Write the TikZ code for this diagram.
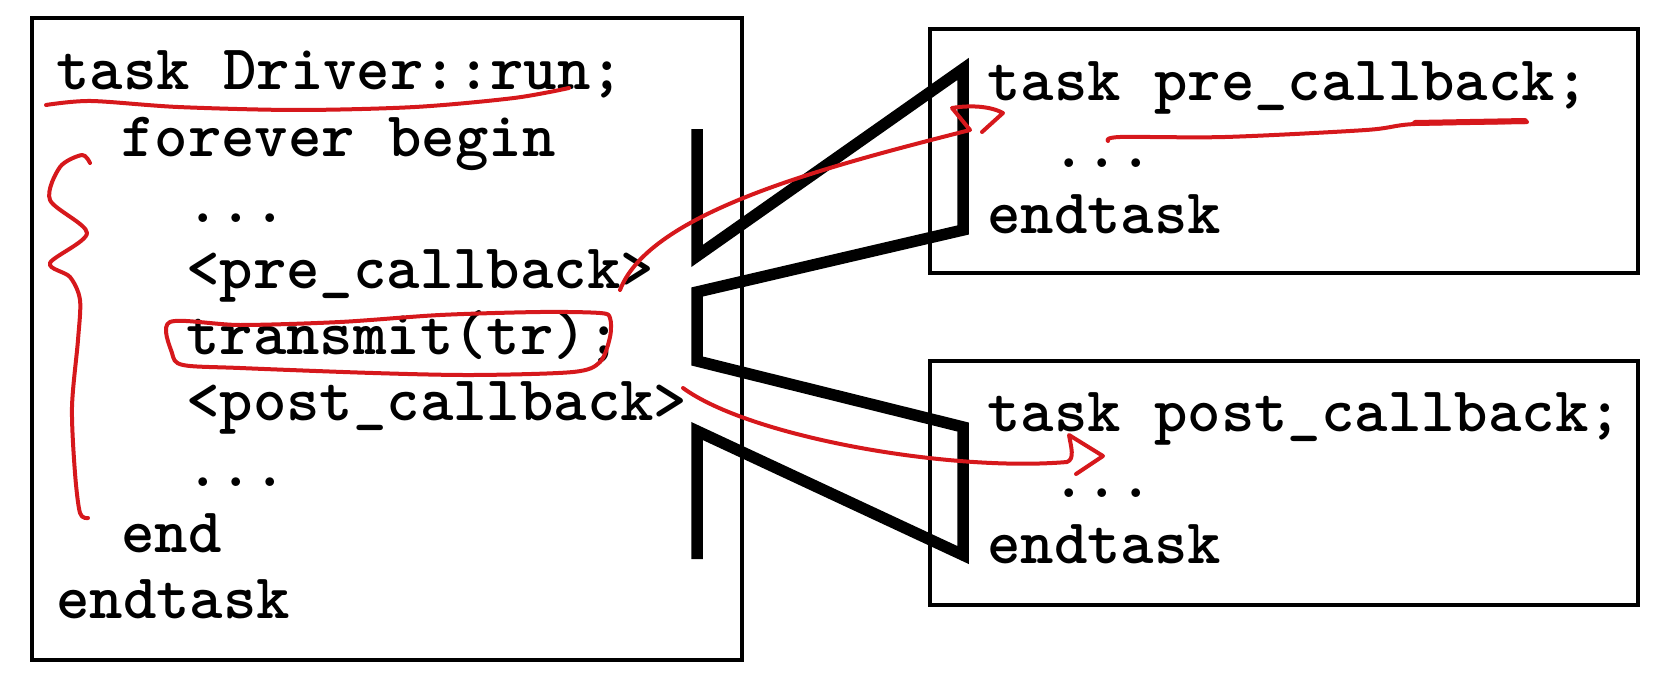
\documentclass[tikz,border=0pt]{standalone}
\usepackage{fontspec}
\definecolor{penred}{RGB}{214,24,28}
\begin{document}
\begin{tikzpicture}[
  code/.style={font=\ttfamily\bfseries\fontsize{36.2}{43}\selectfont, inner sep=0pt, anchor=base west},
  codebox/.style={line width=0.070000cm},
  stream/.style={line width=0.230000cm, line join=miter},
  redpen/.style={draw=penred, line width=0.080000cm, line cap=round, line join=round}]
                    \useasboundingbox (0,0) rectangle (33.180000,13.440000);

                    % Drawing box Driver
                    \draw [codebox] (0.640000,0.240000) rectangle (14.840000,13.080000);%

                    % Drawing box pre_callback
                    \draw [codebox] (18.600000,7.980000) rectangle (32.760000,12.860000);%

                    % Drawing box post_callback
                    \draw [codebox] (18.600000,1.340000) rectangle (32.760000,6.220000);%

                    % Marking lines of Driver::run
                    \node (drvtask) at (1.120000,11.640000) [code] {task Driver::run;};%
                    \node (drvloop) at (2.420000,10.320000) [code] {forever begin};%
                    \node (drvdotsa) at (3.720000,9.000000) [code] {...};%
                    \node (drvpre) at (3.720000,7.680000) [code] {<pre\_callback>};%
                    \node (drvxmit) at (3.720000,6.360000) [code] {transmit(tr);};%
                    \node (drvpost) at (3.720000,5.040000) [code] {<post\_callback>};%
                    \node (drvdotsb) at (3.720000,3.720000) [code] {...};%
                    \node (drvend) at (2.420000,2.400000) [code] {end};%
                    \node (drvendtask) at (1.120000,1.080000) [code] {endtask};%

                    % Marking lines of pre_callback
                    \node (pretask) at (19.740000,11.420000) [code] {task pre\_callback;};%
                    \node (predots) at (21.040000,10.100000) [code] {...};%
                    \node (preend) at (19.740000,8.780000) [code] {endtask};%

                    % Marking lines of post_callback
                    \node (posttask) at (19.740000,4.820000) [code] {task post\_callback;};%
                    \node (postdots) at (21.040000,3.500000) [code] {...};%
                    \node (postend) at (19.740000,2.180000) [code] {endtask};%

                    % Drawing stream S
                    \draw [stream] (13.940000,10.860000) -- (13.940000,8.320000) -- (19.260000,12.060000) -- (19.260000,8.840000) -- (13.940000,7.600000) -- (13.940000,6.220000) -- (19.260000,4.900000) -- (19.260000,2.340000) -- (13.940000,4.820000) -- (13.940000,2.260000);%

                    % Drawing underline of task Driver::run
                    \draw [redpen] plot [smooth] coordinates {(0.920000,11.340000) (1.820000,11.420000) (3.560000,11.300000) (5.940000,11.240000) (8.300000,11.300000) (10.280000,11.480000) (11.380000,11.680000)};%

                    % Drawing brace of forever loop
                    \draw [redpen] plot [smooth] coordinates {(1.800000,10.180000) (1.640000,10.340000) (1.200000,10.100000) (1.000000,9.440000) (1.740000,8.780000) (1.000000,8.180000) (1.400000,7.900000) (1.600000,7.440000) (1.560000,6.640000) (1.440000,5.300000) (1.500000,3.980000) (1.600000,3.180000) (1.760000,3.080000)};%

                    % Drawing loop round transmit
                    \draw [redpen] plot [smooth cycle] coordinates {(3.400000,7.000000) (3.440000,6.380000) (3.660000,6.140000) (4.800000,6.080000) (7.460000,5.980000) (9.460000,5.940000) (11.460000,6.000000) (12.000000,6.200000) (12.200000,6.700000) (12.200000,7.080000) (12.000000,7.180000) (10.800000,7.200000) (8.800000,7.140000) (6.800000,7.000000) (4.800000,6.940000)};%

                    % Drawing arrow pre
                    \coordinate (preFrom) at (12.400000,7.640000);
                    \coordinate (preTo) at (19.400000,10.840000);
                    \draw [redpen] (preFrom) .. controls (13.000000,9.200000) and (16.500000,10.100000) .. (preTo) -- (19.040000,11.280000) .. controls (19.400000,11.340000) and (19.800000,11.320000) .. (20.060000,11.180000) -- (19.640000,10.800000);%

                    % Drawing arrow post
                    \coordinate (postFrom) at (13.660000,5.680000);
                    \coordinate (postTo) at (21.340000,4.200000);
                    \draw [redpen] (postFrom) .. controls (15.000000,4.700000) and (19.000000,4.000000) .. (postTo) .. controls (21.500000,4.260000) and (21.420000,4.500000) .. (21.380000,4.740000) -- (22.060000,4.320000) -- (21.520000,3.960000);%

                    % Drawing underline of pre_callback
                    \draw [redpen] plot [smooth] coordinates {(22.160000,10.620000) (22.400000,10.700000) (24.500000,10.700000) (27.320000,10.840000) (28.300000,10.960000) (30.540000,11.000000)};%
                    \draw [redpen, line width=0.120000cm] (28.300000,10.980000) -- (30.500000,11.020000);%
\end{tikzpicture}
\end{document}
